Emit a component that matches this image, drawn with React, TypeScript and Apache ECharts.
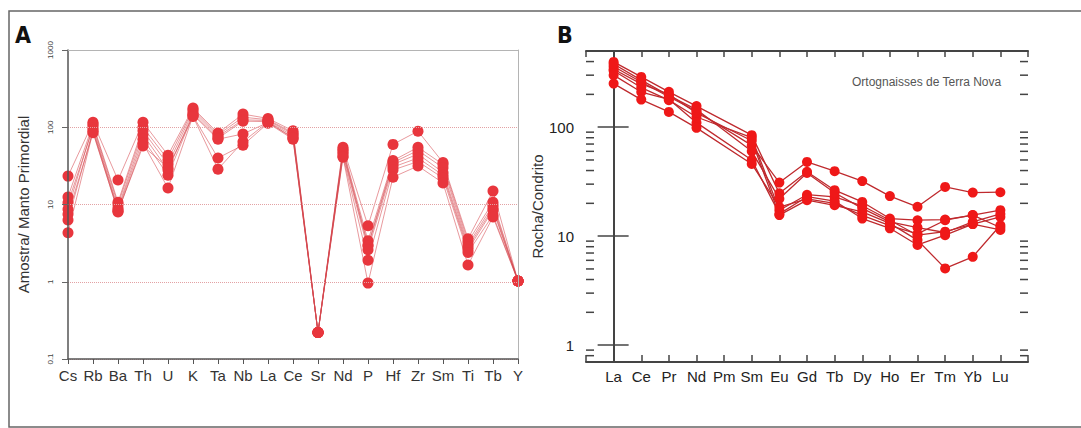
import React, { useEffect, useRef } from "react";
import * as echarts from "echarts";

// ---------- Panel A: spider diagram (primitive mantle) ----------
const elementsA = ["Cs", "Rb", "Ba", "Th", "U", "K", "Ta", "Nb", "La", "Ce", "Sr", "Nd", "P", "Hf", "Zr", "Sm", "Ti", "Tb", "Y"];
const a1 = [23.3, 116, 20.7, 116, 43.5, 177, 84, 148, 130, 90, 0.22, 55, 5.3, 60, 89, 35, 3.6, 14.9, 1.02];
const a2 = [12.5, 110, 10.7, 100, 38, 170, 80, 135, 125, 85, 0.22, 52, 3.4, 37, 55, 33, 3.3, 10.7, 1.02];
const a3 = [8.7, 105, 10.0, 90, 33, 160, 76, 125, 122, 82, 0.22, 50, 3.0, 35, 50, 30, 3.0, 9.8, 1.02];
const a4 = [10.5, 98, 9.0, 80, 28, 150, 72, 120, 118, 78, 0.22, 47, 2.9, 33, 45, 26, 2.8, 9.0, 1.02];
const a5 = [6.3, 92, 8.5, 70, 24, 145, 70, 82, 115, 74, 0.22, 45, 2.6, 30.5, 40, 24, 2.6, 8.5, 1.02];
const a6 = [4.3, 88, 8.0, 62, 16.3, 140, 40, 58.6, 113, 70, 0.22, 42, 1.9, 28, 36, 22, 2.4, 7.3, 1.02];
const a7 = [7.5, 85, 8.2, 57, 30, 138, 28.7, 65, 117, 72, 0.22, 41, 0.96, 22.6, 31.5, 19, 1.65, 6.9, 1.02];
const samplesA = [a1, a2, a3, a4, a5, a6, a7];

// ---------- Panel B: REE chondrite-normalised ----------
const elementsB = ["La", "Ce", "Pr", "Nd", "Pm", "Sm", "Eu", "Gd", "Tb", "Dy", "Ho", "Er", "Tm", "Yb", "Lu"];
const b1 = [360, 260, 190, 140, null, 68, 31, 48, 39.5, 32, 23.3, 18.6, 28.3, 25.1, 25.3];
const b2 = [397, 289, 211, 156, null, 84.5, 24.7, 39, 26.4, 20.6, 14.5, 14.0, 14.2, 15.6, 17.3];
const b3 = [329, 231, 177, 124, null, 80, 17.3, 24, 22.9, 19, 14, 10.2, 11, 12.9, 15];
const b4 = [340, 250, 200, 135, null, 75, 15.6, 21.4, 19.2, 16.7, 13.1, 9.2, 5.06, 6.46, 12.6];
const b5 = [300, 210, 180, 110, null, 50, 16, 23, 21, 14.5, 11.8, 8.3, 10.2, 12.9, 11.4];
const b6 = [251, 179, 138, 98.6, null, 46, 18.5, 22, 20, 15.5, 12.5, 10.5, 14, 15.6, 12];
const b7 = [380, 270, 195, 145, null, 60, 22, 38, 25, 18, 13.5, 12, 10.8, 13.5, 16];
const samplesB = [b1, b2, b3, b4, b5, b6, b7];

const majorTicksB = [1, 10, 100];
const minorTicksB = [0.8, 0.9, 2, 3, 4, 5, 6, 7, 8, 9, 20, 30, 40, 50, 60, 70, 80, 90, 200, 300, 400];

const FONT = "'Liberation Sans', Arial, Helvetica, sans-serif";

export default function App() {
  const ref = useRef<HTMLDivElement>(null);

  useEffect(() => {
    if (!ref.current) return;
    const chart = echarts.init(ref.current, undefined, { renderer: "svg" });

    const seriesA = samplesA.map((vals, i) => ({
      type: "line",
      name: "A" + (i + 1),
      xAxisIndex: 0,
      yAxisIndex: 0,
      data: vals,
      symbol: "circle",
      symbolSize: 11,
      itemStyle: { color: "#e8363d" },
      lineStyle: { color: "rgba(214,70,76,0.55)", width: 1 },
      silent: true,
      z: 3,
    }));

    const seriesB = samplesB.map((vals, i) => ({
      type: "line",
      name: "B" + (i + 1),
      xAxisIndex: 1,
      yAxisIndex: 1,
      data: vals.map((v, j) => (v == null ? null : [j, v])).filter((d) => d !== null),
      symbol: "circle",
      symbolSize: 10,
      itemStyle: { color: "#ef1818" },
      lineStyle: { color: "#bf2a2e", width: 1.3 },
      silent: true,
      z: 3,
    }));

    const minorSeries = {
      type: "custom",
      xAxisIndex: 1,
      yAxisIndex: 1,
      silent: true,
      clip: false,
      z: 5,
      data: minorTicksB.map((v) => [-1, v]),
      encode: { x: 0, y: 1 },
      renderItem: (params: any, api: any) => {
        const v = api.value(1);
        const pL = api.coord([-1, v]);
        const pR = api.coord([15, v]);
        return {
          type: "group",
          children: [
            { type: "line", shape: { x1: pL[0], y1: pL[1], x2: pL[0] + 8, y2: pL[1] }, style: { stroke: "#444", lineWidth: 1.5 } },
            { type: "line", shape: { x1: pR[0] - 8, y1: pR[1], x2: pR[0], y2: pR[1] }, style: { stroke: "#444", lineWidth: 1.5 } },
          ],
        };
      },
    };

    const isMajorB = (v: number) => majorTicksB.some((m) => Math.abs(v - m) / m < 1e-6);

    const option: any = {
      animation: false,
      textStyle: { fontFamily: FONT },
      grid: [
        { left: 68, top: 50, width: 450, height: 309, show: false },
        { left: 586, top: 51, width: 442, height: 311, show: false },
      ],
      xAxis: [
        {
          gridIndex: 0,
          type: "category",
          data: elementsA,
          boundaryGap: false,
          axisLine: { show: true, lineStyle: { color: "#555", width: 1.5 } },
          axisTick: { show: true, length: 5, inside: false, lineStyle: { color: "#555" } },
          axisLabel: { interval: 0, fontSize: 15, color: "#333", margin: 9, fontFamily: FONT },
          splitLine: { show: false },
          z: 4,
        },
        {
          gridIndex: 1,
          type: "value",
          min: -1,
          max: 15,
          interval: 1,
          axisLine: { show: true, lineStyle: { color: "#444", width: 2 } },
          axisTick: { show: true, inside: true, length: 7, lineStyle: { color: "#444", width: 1.5 } },
          axisLabel: {
            fontSize: 15,
            color: "#222",
            margin: 7,
            fontFamily: FONT,
            formatter: (v: number) => elementsB[Math.round(v)] ?? "",
          },
          splitLine: { show: false },
        },
        {
          gridIndex: 1,
          type: "value",
          position: "top",
          min: -1,
          max: 15,
          interval: 1,
          axisLine: { show: true, lineStyle: { color: "#444", width: 2 } },
          axisTick: { show: true, inside: true, length: 6, lineStyle: { color: "#444", width: 1.5 } },
          axisLabel: { show: false },
          splitLine: { show: false },
        },
        {
          gridIndex: 0,
          type: "category",
          position: "top",
          data: elementsA,
          boundaryGap: false,
          axisLine: { show: true, lineStyle: { color: "#b4b4b4", width: 1 } },
          axisTick: { show: false },
          axisLabel: { show: false },
          splitLine: { show: false },
          z: 4,
        },
      ],
      yAxis: [
        {
          gridIndex: 0,
          type: "log",
          logBase: 10,
          min: 0.1,
          max: 1000,
          name: "Amostra/ Manto Primordial",
          nameLocation: "middle",
          nameGap: 37,
          nameTextStyle: { fontSize: 15, color: "#333", fontFamily: FONT },
          axisLine: { show: true, lineStyle: { color: "#555", width: 1.5 } },
          axisTick: { show: true, length: 6, lineStyle: { color: "#666" } },
          axisLabel: {
            rotate: 90,
            fontSize: 8,
            color: "#444",
            margin: 14,
            fontFamily: FONT,
            formatter: (v: number) => (v < 1 ? v.toFixed(1) : String(Math.round(v))),
          },
          splitLine: { show: true, lineStyle: { type: "dotted", color: "#e3a2a4", width: 1 } },
          z: 4,
        },
        {
          gridIndex: 1,
          type: "log",
          logBase: 10,
          min: 0.7,
          max: 500,
          name: "Rocha/Condrito",
          nameLocation: "middle",
          nameGap: 34,
          nameTextStyle: { fontSize: 15, color: "#333", fontFamily: FONT },
          axisLine: { show: true, lineStyle: { color: "#444", width: 2 } },
          axisTick: { show: true, inside: true, length: 15, lineStyle: { color: "#444", width: 1.5 } },
          axisLabel: {
            fontSize: 15,
            color: "#222",
            margin: 12,
            fontFamily: FONT,
            formatter: (v: number) => (isMajorB(v) ? String(Math.round(v)) : ""),
          },
          splitLine: { show: false },
        },
        {
          gridIndex: 1,
          type: "log",
          logBase: 10,
          min: 0.7,
          max: 500,
          position: "right",
          axisLine: { show: true, lineStyle: { color: "#444", width: 2 } },
          axisTick: { show: true, inside: true, length: 16, lineStyle: { color: "#444", width: 1.5 } },
          axisLabel: { show: false },
          splitLine: { show: false },
        },
        {
          gridIndex: 0,
          type: "log",
          logBase: 10,
          min: 0.1,
          max: 1000,
          position: "right",
          axisLine: { show: true, lineStyle: { color: "#b4b4b4", width: 1 } },
          axisTick: { show: false },
          axisLabel: { show: false },
          splitLine: { show: false },
          z: 4,
        },
      ],
      graphic: [
        { type: "rect", shape: { x: 9, y: 11, width: 1100, height: 416 }, style: { fill: "none", stroke: "#666", lineWidth: 1.5 }, silent: true },
        {
          type: "text",
          left: 15,
          top: 23,
          style: { text: "A", fontSize: 23, fontWeight: "bold", fontFamily: "'Liberation Sans Narrow', 'DejaVu Sans Condensed', " + FONT, fill: "#111" },
        },
        {
          type: "text",
          left: 557,
          top: 23,
          style: { text: "B", fontSize: 23, fontWeight: "bold", fontFamily: "'Liberation Sans Narrow', 'DejaVu Sans Condensed', " + FONT, fill: "#111" },
        },
        {
          type: "text",
          left: 852,
          top: 76,
          style: { text: "Ortognaisses de Terra Nova", fontSize: 12, fontFamily: FONT, fill: "#555" },
        },
      ],
      series: [...seriesA, ...seriesB, minorSeries],
    };

    chart.setOption(option);
    return () => chart.dispose();
  }, []);

  return <div ref={ref} style={{ position: "fixed", left: 0, top: 0, width: 1081, height: 428, background: "#fff" }} />;
}
